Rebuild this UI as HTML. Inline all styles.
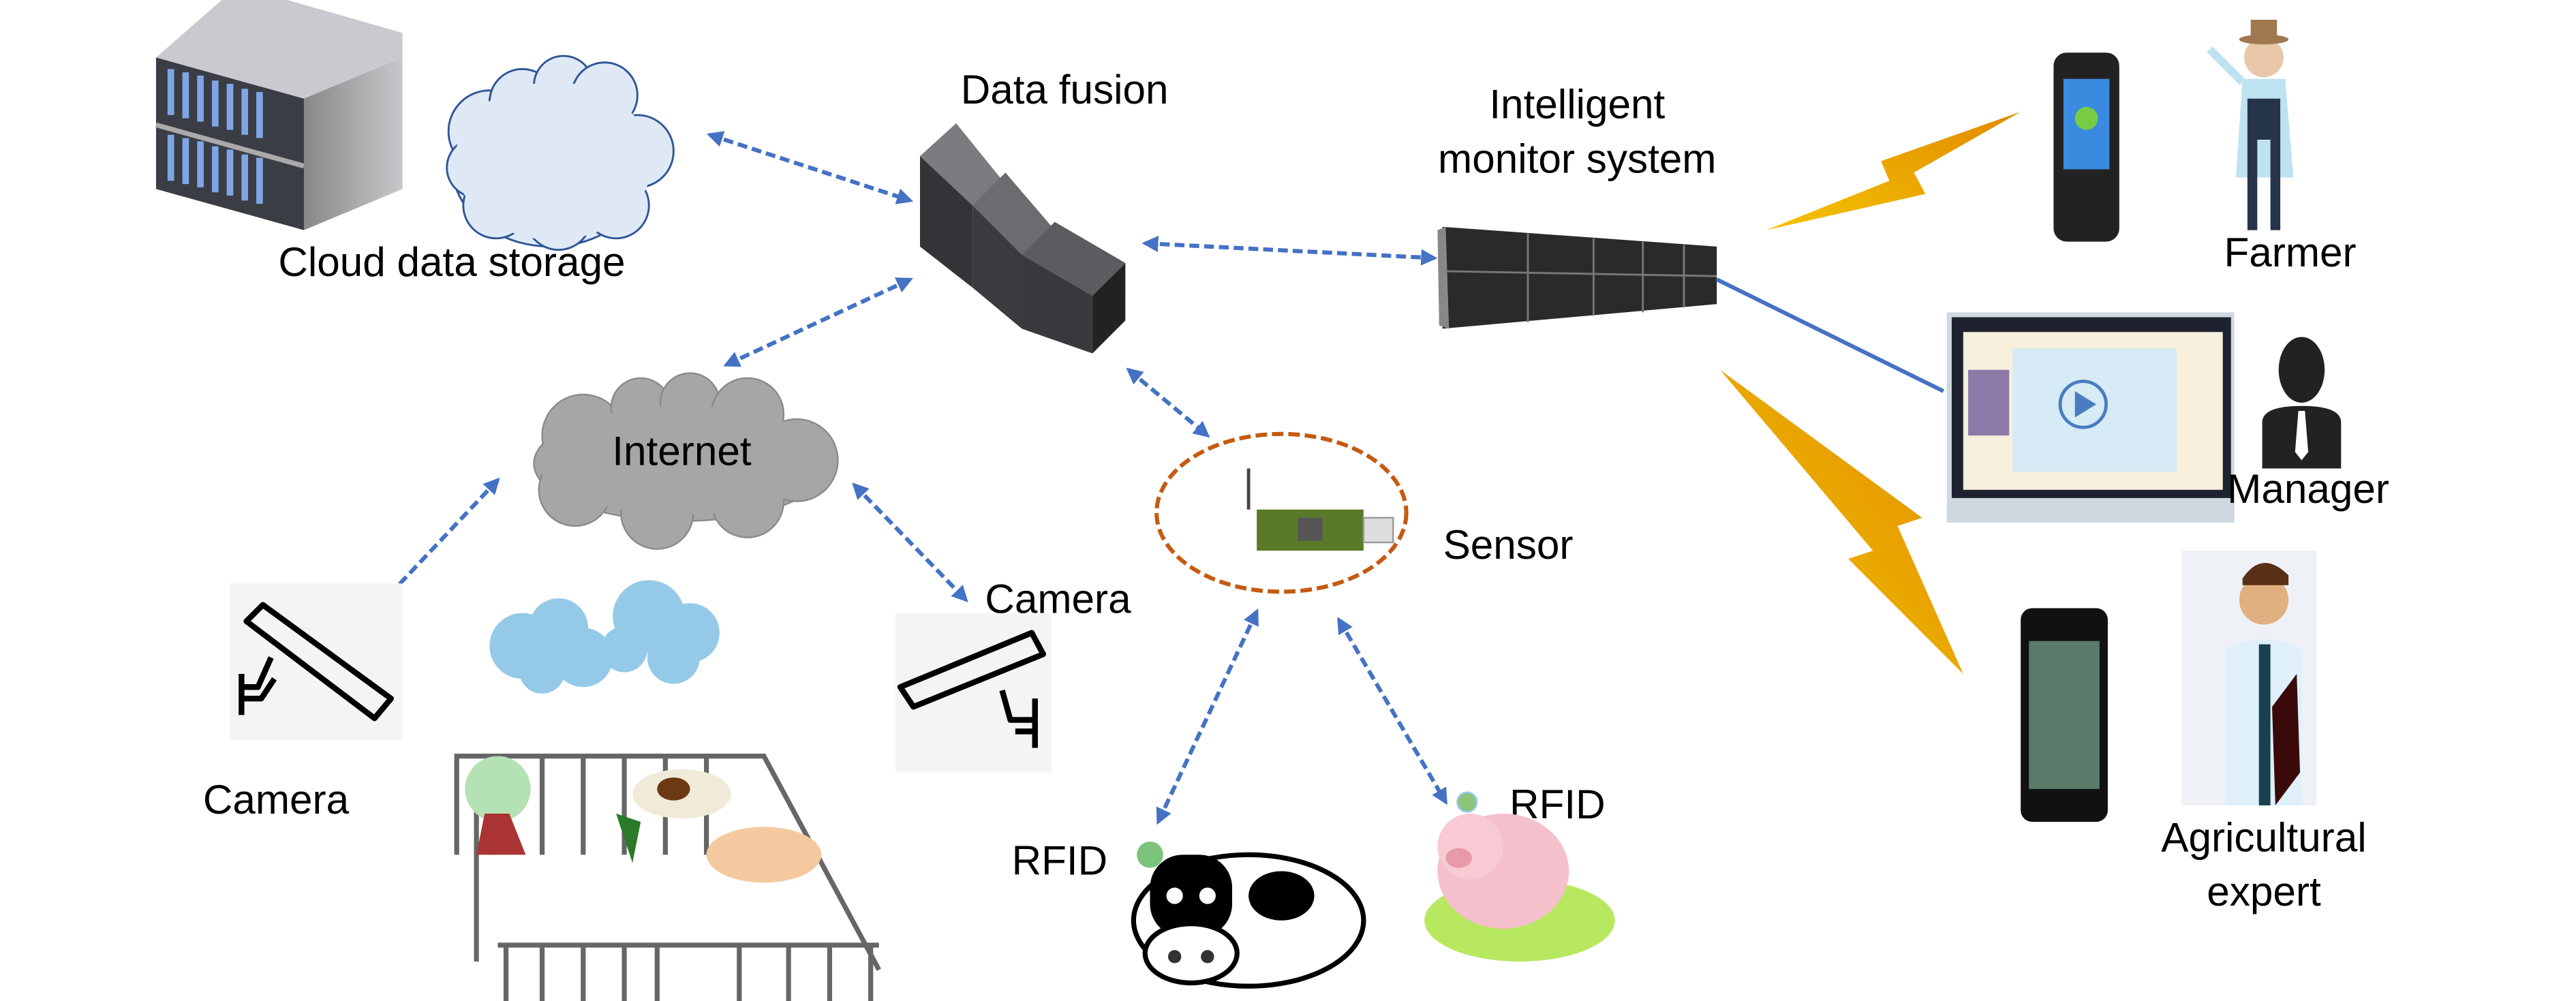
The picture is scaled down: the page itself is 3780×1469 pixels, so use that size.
<!DOCTYPE html>
<html><head><meta charset="utf-8"><style>html,body{margin:0;padding:0;background:#fff}svg{display:block}</style></head>
<body>
<svg width="3780" height="1469" viewBox="0 0 1568 609" preserveAspectRatio="none" xmlns="http://www.w3.org/2000/svg" font-family="Liberation Sans, Arial, sans-serif">
<defs>
<marker id="a" viewBox="0 0 10 10" refX="8" refY="5" markerWidth="4" markerHeight="4" orient="auto-start-reverse"><path d="M0,0L10,5L0,10z" fill="#4472c4"/></marker>
<linearGradient id="srv" x1="0" x2="1"><stop offset="0" stop-color="#888"/><stop offset="1" stop-color="#c8c8cc"/></linearGradient>
<linearGradient id="bolt" x1="0" x2="1" y1="1" y2="0"><stop offset="0" stop-color="#f5c400"/><stop offset="1" stop-color="#e08a00"/></linearGradient>
</defs>
<rect width="1568" height="609" fill="#fff"/>

<!-- cloud storage servers -->
<g>
<polygon points="95,35 135,0 175,0 245,20 245,35 185,60 95,35" fill="#c9c9cf"/>
<polygon points="95,35 185,60 185,140 95,115" fill="#3a3d44"/>
<polygon points="185,60 245,35 245,115 185,140" fill="url(#srv)"/>
<line x1="95" y1="76" x2="185" y2="101" stroke="#aaa" stroke-width="3"/>
<g fill="#7ea6e6">
<rect x="102" y="42" width="4" height="28"/><rect x="111" y="44" width="4" height="28"/><rect x="120" y="46" width="4" height="28"/><rect x="129" y="49" width="4" height="28"/><rect x="138" y="51" width="4" height="28"/><rect x="147" y="54" width="4" height="28"/><rect x="156" y="56" width="4" height="28"/>
<rect x="102" y="82" width="4" height="28"/><rect x="111" y="84" width="4" height="28"/><rect x="120" y="86" width="4" height="28"/><rect x="129" y="89" width="4" height="28"/><rect x="138" y="91" width="4" height="28"/><rect x="147" y="94" width="4" height="28"/><rect x="156" y="96" width="4" height="28"/></g>
</g>
<!-- light cloud -->
<g fill="#dfe9f6" stroke="#2f5597" stroke-width="1.2">
<ellipse cx="335" cy="100" rx="60" ry="50"/>
<circle cx="298" cy="80" r="25"/><circle cx="318" cy="62" r="20"/><circle cx="343" cy="52" r="18"/><circle cx="368" cy="58" r="20"/><circle cx="388" cy="92" r="22"/><circle cx="375" cy="125" r="20"/><circle cx="340" cy="132" r="20"/><circle cx="302" cy="125" r="20"/><circle cx="290" cy="102" r="18"/>
</g>
<ellipse cx="337" cy="98" rx="60" ry="48" fill="#dfe9f6"/>
<text x="275" y="168" font-size="25" text-anchor="middle">Cloud data storage</text>

<!-- data fusion -->
<text x="648" y="63" font-size="25" text-anchor="middle">Data fusion</text>
<g>
<polygon points="560,95 582,75 612,112 592,125" fill="#7b7b80"/>
<polygon points="592,125 612,105 642,140 622,155" fill="#6b6b70"/>
<polygon points="622,155 642,135 685,160 665,180" fill="#5b5b60"/>
<polygon points="560,95 592,125 592,175 560,150" fill="#333338"/>
<polygon points="592,125 622,155 622,200 592,175" fill="#3a3a3f"/>
<polygon points="622,155 665,180 665,215 622,200" fill="#38383d"/>
<polygon points="665,180 685,160 685,195 665,215" fill="#222"/>
</g>

<!-- intelligent monitor -->
<text x="960" y="72" font-size="25" text-anchor="middle">Intelligent</text>
<text x="960" y="105" font-size="25" text-anchor="middle">monitor system</text>
<polygon points="878,138 1045,150 1045,185 878,200" fill="#2a2a2a"/>
<polygon points="875,140 880,138 882,200 876,198" fill="#888"/>
<g stroke="#777" stroke-width="1.2"><line x1="880" y1="165" x2="1045" y2="168"/><line x1="930" y1="142" x2="930" y2="196"/><line x1="970" y1="145" x2="970" y2="192"/><line x1="1000" y1="147" x2="1000" y2="190"/><line x1="1025" y1="149" x2="1025" y2="187"/></g>

<!-- bolts -->
<polygon points="1075,140 1150,110 1145,98 1230,68 1165,105 1172,118" fill="url(#bolt)"/>
<polygon points="1047,225 1140,335 1125,340 1195,410 1155,320 1170,315" fill="url(#bolt)"/>
<line x1="1045" y1="170" x2="1183" y2="238" stroke="#4472c4" stroke-width="2.5"/>

<!-- farmer -->
<rect x="1250" y="32" width="40" height="115" rx="8" fill="#222"/>
<rect x="1256" y="48" width="28" height="55" fill="#3a8be0"/>
<circle cx="1270" cy="72" r="7" fill="#7c4"/>
<circle cx="1378" cy="35" r="12" fill="#e8c8a8"/>
<ellipse cx="1378" cy="24" rx="15" ry="3" fill="#a07850"/>
<rect x="1370" y="12" width="16" height="12" fill="#a07850"/>
<path d="M1365,48 h26 l5,60 h-35z" fill="#bfe2f0"/>
<path d="M1368,60 h20 v80 h-6 v-55 h-8 v55 h-6z" fill="#26344a"/>
<line x1="1365" y1="50" x2="1345" y2="30" stroke="#bfe2f0" stroke-width="5"/>
<text x="1394" y="162" font-size="25" text-anchor="middle">Farmer</text>

<!-- monitor -->
<rect x="1185" y="190" width="175" height="128" fill="#cfd8e0"/>
<rect x="1188" y="193" width="170" height="110" fill="#1e2230"/>
<rect x="1195" y="202" width="158" height="96" fill="#f6f0dc"/>
<rect x="1225" y="212" width="100" height="75" fill="#d6ebf5"/>
<rect x="1198" y="225" width="25" height="40" fill="#8e7aa8"/>
<circle cx="1268" cy="246" r="14" fill="none" stroke="#4a7dc0" stroke-width="2"/>
<polygon points="1263,238 1276,246 1263,254" fill="#4a7dc0"/>
<!-- manager -->
<ellipse cx="1401" cy="225" rx="14" ry="20" fill="#222"/>
<path d="M1377,285 v-28 q0,-10 24,-10 q24,0 24,10 v28z" fill="#222"/>
<polygon points="1399,250 1403,250 1405,275 1401,280 1397,275" fill="#fff"/>
<text x="1405" y="306" font-size="25" text-anchor="middle">Manager</text>

<!-- expert -->
<rect x="1230" y="370" width="53" height="130" rx="7" fill="#111"/>
<rect x="1235" y="390" width="43" height="90" fill="#5a7a6a"/>
<rect x="1328" y="335" width="82" height="155" fill="#eef2f7"/>
<circle cx="1378" cy="365" r="15" fill="#e0b080"/>
<path d="M1365,352 q12,-18 28,-2 v6 h-28z" fill="#5a3018"/>
<path d="M1355,395 q23,-12 46,0 v95 h-46z" fill="#dff0fa"/>
<rect x="1375" y="392" width="7" height="98" fill="#1a4050"/>
<polygon points="1383,430 1398,410 1400,470 1385,490" fill="#3a0a0a"/>
<text x="1378" y="518" font-size="25" text-anchor="middle">Agricultural</text>
<text x="1378" y="551" font-size="25" text-anchor="middle">expert</text>

<!-- internet cloud -->
<g fill="#a6a6a6" stroke="#8a8a8a" stroke-width="1">
<ellipse cx="415" cy="282" rx="90" ry="35"/>
<circle cx="355" cy="265" r="25"/><circle cx="390" cy="248" r="18"/><circle cx="420" cy="245" r="18"/><circle cx="455" cy="252" r="22"/><circle cx="485" cy="280" r="25"/><circle cx="350" cy="298" r="22"/><circle cx="400" cy="312" r="22"/><circle cx="455" cy="305" r="22"/>
</g>
<ellipse cx="415" cy="280" rx="88" ry="33" fill="#a6a6a6"/>
<text x="415" y="283" font-size="25" text-anchor="middle">Internet</text>

<!-- dashed arrows -->
<g stroke="#4472c4" stroke-width="2.5" stroke-dasharray="6,3" fill="none" marker-start="url(#a)" marker-end="url(#a)">
<line x1="432" y1="82" x2="554" y2="122"/>
<line x1="554" y1="170" x2="442" y2="222"/>
<line x1="697" y1="148" x2="873" y2="157"/>
<line x1="687" y1="225" x2="735" y2="265"/>
<line x1="303" y1="292" x2="218" y2="382"/>
<line x1="520" y1="295" x2="588" y2="365"/>
<line x1="765" y1="372" x2="705" y2="500"/>
<line x1="815" y1="377" x2="880" y2="488"/>
</g>

<!-- sensor -->
<ellipse cx="780" cy="312" rx="76" ry="48" fill="none" stroke="#c55a11" stroke-width="2.5" stroke-dasharray="7,3"/>
<rect x="765" y="310" width="65" height="25" fill="#5a7a2a"/>
<rect x="830" y="315" width="18" height="15" fill="#ddd" stroke="#999"/>
<rect x="790" y="315" width="15" height="14" fill="#555"/>
<line x1="760" y1="310" x2="760" y2="285" stroke="#444" stroke-width="2"/>
<text x="918" y="340" font-size="25" text-anchor="middle">Sensor</text>

<!-- cameras -->
<rect x="140" y="355" width="105" height="95" fill="#f4f4f4"/>
<g fill="none" stroke="#000" stroke-width="3.5" stroke-linejoin="round">
<polygon points="150,378 160,368 238,425 228,437"/>
<path d="M165,400 l-8,18 h-10 M147,410 v25 M147,425 h12 l8,-12"/>
</g>
<text x="168" y="495" font-size="25" text-anchor="middle">Camera</text>
<rect x="545" y="373" width="95" height="97" fill="#f4f4f4"/>
<g fill="none" stroke="#000" stroke-width="3.5" stroke-linejoin="round">
<polygon points="548,418 556,430 635,398 628,385"/>
<path d="M610,420 l5,18 h15 M630,425 v30 M630,445 h-12"/>
</g>
<text x="644" y="373" font-size="25" text-anchor="middle">Camera</text>

<!-- farm -->
<g fill="#94c9e8">
<circle cx="318" cy="393" r="20"/><circle cx="340" cy="382" r="18"/><circle cx="355" cy="400" r="18"/><circle cx="330" cy="408" r="14"/>
<circle cx="395" cy="375" r="22"/><circle cx="420" cy="385" r="18"/><circle cx="410" cy="400" r="16"/><circle cx="380" cy="395" r="14"/>
</g>
<g fill="none" stroke="#666" stroke-width="3">
<polyline points="278,520 278,460 465,460 535,590"/>
<line x1="290" y1="490" x2="290" y2="585"/>
<polyline points="303,575 535,575"/>
<path d="M308,575 v60 M330,575 v60 M355,575 v60 M380,575 v60 M400,575 v60 M450,575 v60 M480,575 v60 M505,575 v60 M530,575 v60"/>
<path d="M300,460 v60 M330,460 v60 M355,460 v60 M380,460 v60 M405,460 v60 M430,460 v60"/>
</g>
<circle cx="303" cy="480" r="20" fill="#b5e2b5"/>
<polygon points="295,495 310,495 320,520 290,520" fill="#a33"/>
<ellipse cx="415" cy="483" rx="30" ry="15" fill="#f0ead8"/>
<ellipse cx="410" cy="480" rx="10" ry="7" fill="#6b3a12"/>
<ellipse cx="465" cy="520" rx="35" ry="17" fill="#f5c9a0"/>
<path d="M375,495 l10,30 l5,-25" fill="#2a7a2a"/>

<!-- cow -->
<text x="645" y="532" font-size="25" text-anchor="middle">RFID</text>
<circle cx="700" cy="520" r="8" fill="#7cc47c"/>
<ellipse cx="760" cy="560" rx="70" ry="40" fill="#fff" stroke="#000" stroke-width="3"/>
<ellipse cx="780" cy="545" rx="20" ry="15" fill="#000"/>
<rect x="700" y="520" width="50" height="50" rx="20" fill="#000"/>
<ellipse cx="725" cy="580" rx="28" ry="18" fill="#fff" stroke="#000" stroke-width="3"/>
<circle cx="715" cy="582" r="4" fill="#333"/><circle cx="735" cy="582" r="4" fill="#333"/>
<circle cx="715" cy="545" r="5" fill="#fff"/><circle cx="735" cy="545" r="5" fill="#fff"/>

<!-- pig -->
<text x="948" y="498" font-size="25" text-anchor="middle">RFID</text>
<circle cx="893" cy="488" r="6" fill="#8cc47c" stroke="#9cf"/>
<ellipse cx="925" cy="560" rx="58" ry="25" fill="#b8e860"/>
<ellipse cx="915" cy="530" rx="40" ry="35" fill="#f4c0cc"/>
<ellipse cx="895" cy="515" rx="20" ry="20" fill="#f7cad4"/>
<ellipse cx="888" cy="522" rx="8" ry="6" fill="#e89aaa"/>
</svg>
</body></html>
